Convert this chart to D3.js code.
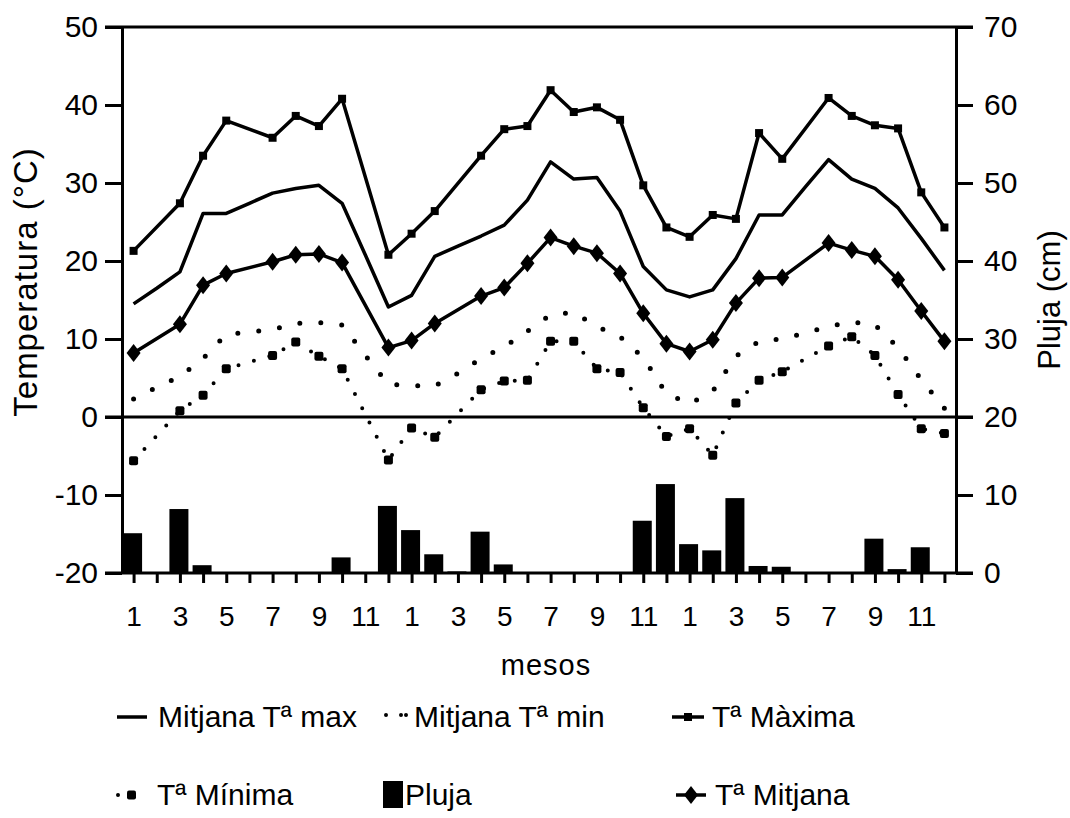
<!DOCTYPE html>
<html>
<head>
<meta charset="utf-8">
<script src="https://cdn.jsdelivr.net/npm/d3@7"></script>
<style>
  body { margin: 0; background: #fff; }
  text { font-family: "Liberation Sans", Arial, Helvetica, sans-serif; fill: #000; }
</style>
</head>
<body>
<div id="chart"></div>
<script>
// month number for each of the 36 points (three years)
const monthNum = [1,2,3,4,5,6,7,8,9,10,11,12, 1,2,3,4,5,6,7,8,9,10,11,12, 1,2,3,4,5,6,7,8,9,10,11,12];

// mean max / mean min (no markers)
const mitjanaMax = [14.5,16.5,18.6,26.1,26.1,27.4,28.7,29.3,29.7,27.4,20.8,14.1,
                    15.6,20.6,21.9,23.2,24.6,27.8,32.7,30.5,30.7,26.4,19.3,16.3,
                    15.4,16.3,20.3,25.9,25.9,29.5,33.0,30.5,29.3,26.8,22.9,18.8];
const mitjanaMin = [2.3,3.8,5.2,7.5,10.6,10.9,11.2,12.0,12.1,11.8,7.9,4.2,
                    4.0,4.0,5.6,7.5,9.0,11.0,13.1,13.4,11.6,10.3,7.6,3.0,
                    1.7,3.3,7.8,9.7,10.0,10.8,11.6,12.2,11.8,8.9,4.8,1.1];

// observed monthly values (null = no data that month)
const tMaxima = [21.3,null,27.4,33.5,38.0,null,35.8,38.6,37.3,40.8,null,20.8,
                 23.5,26.4,null,33.5,36.9,37.3,41.9,39.1,39.7,38.1,29.7,24.3,
                 23.1,25.9,25.4,36.4,33.1,null,40.9,38.6,37.4,37.0,28.8,24.3];
const tMinima = [-5.6,null,0.8,2.8,6.2,null,7.9,9.6,7.8,6.2,null,-5.5,
                 -1.4,-2.6,null,3.5,4.6,4.7,9.7,9.7,6.2,5.7,1.2,-2.5,
                 -1.5,-4.9,1.8,4.7,5.8,null,9.1,10.3,7.9,2.9,-1.5,-2.1];
const tMitjana = [8.2,null,11.9,16.9,18.4,null,19.9,20.8,20.9,19.8,null,8.9,
                  9.8,12.0,null,15.5,16.6,19.7,23.0,21.9,21.0,18.4,13.3,9.4,
                  8.4,9.9,14.6,17.8,17.9,null,22.3,21.4,20.6,17.6,13.6,9.7];

// rain (cm), right axis
const pluja = [5.1,0,8.2,1.0,0,0,0,0,0,2.0,0,8.6,
               5.5,2.4,0.2,5.3,1.1,0,0,0,0,0,6.7,11.4,
               3.7,2.9,9.6,0.9,0.8,0,0,0,4.4,0.5,3.3,0];

const tempTicks = [-20,-10,0,10,20,30,40,50];
const plujaTicks = [0,10,20,30,40,50,60,70];

// set the dimensions
const W = 1070, H = 818;
const plot = {left: 122, right: 956, top: 27, bottom: 573};

const svg = d3.select("#chart")
    .append("svg")
    .attr("width", W)
    .attr("height", H);

const idx = d3.range(monthNum.length);

const x = d3.scalePoint()
    .domain(idx)
    .range([plot.left, plot.right])
    .padding(0.5);

const y = d3.scaleLinear()
    .domain([-20, 50])
    .range([plot.bottom, plot.top]);

const yR = d3.scaleLinear()
    .domain([0, 70])
    .range([plot.bottom, plot.top]);

// rain bars
const barW = x.step() * 0.82;
svg.append("g")
    .selectAll("rect")
    .data(idx.filter(i => pluja[i] > 0))
    .join("rect")
    .attr("x", i => x(i) - barW / 2 - 1)
    .attr("y", i => yR(pluja[i]))
    .attr("width", barW)
    .attr("height", i => yR(0) - yR(pluja[i]))
    .style("fill", "#000");

// axes
const fs = 30;
const leftAxis = svg.append("g")
    .attr("transform", `translate(${plot.left},0)`)
    .call(d3.axisLeft(y).tickValues(tempTicks).tickSize(17).tickSizeOuter(0).tickPadding(7)
        .tickFormat(d => String(d)));
const rightAxis = svg.append("g")
    .attr("transform", `translate(${plot.right},0)`)
    .call(d3.axisRight(yR).tickValues(plujaTicks).tickSize(17).tickSizeOuter(0).tickPadding(11));
const bottomAxis = svg.append("g")
    .attr("transform", `translate(0,${plot.bottom})`)
    .call(d3.axisBottom(x).tickSize(10).tickSizeOuter(0).tickPadding(23)
        .tickFormat(i => monthNum[i] % 2 === 1 ? monthNum[i] : ""));
bottomAxis.select(".domain").remove();

[leftAxis, rightAxis, bottomAxis].forEach(g => {
    g.selectAll("line, path").style("stroke", "#000").style("stroke-width", 3);
    g.selectAll("text").style("font-size", fs + "px").style("fill", "#000");
});
bottomAxis.selectAll("text").style("font-size", "28px");

// frame lines: top, zero and bottom
svg.append("g")
    .selectAll("line")
    .data([50, 0, -20])
    .join("line")
    .attr("x1", plot.left - 17)
    .attr("x2", plot.right + 17)
    .attr("y1", d => y(d))
    .attr("y2", d => y(d))
    .style("stroke", "#000")
    .style("stroke-width", 3);

// axis titles
svg.append("text")
    .attr("transform", `translate(37,282) rotate(-90)`)
    .attr("text-anchor", "middle")
    .style("font-size", "33px")
    .style("letter-spacing", "1px")
    .text("Temperatura (°C)");
svg.append("text")
    .attr("transform", `translate(1060,300) rotate(-90)`)
    .attr("text-anchor", "middle")
    .style("font-size", "31px")
    .text("Pluja (cm)");
svg.append("text")
    .attr("x", 546)
    .attr("y", 675)
    .attr("text-anchor", "middle")
    .style("font-size", "29px")
    .style("letter-spacing", "1px")
    .text("mesos");

// lines
const line = d3.line()
    .x(d => x(d.i))
    .y(d => y(d.v));
const pts = arr => idx.map(i => ({i: i, v: arr[i]})).filter(d => d.v != null);

svg.append("path")
    .datum(pts(mitjanaMax))
    .attr("d", line)
    .style("fill", "none").style("stroke", "#000").style("stroke-width", 3.5)
    .style("stroke-linejoin", "round");

svg.append("path")
    .datum(pts(mitjanaMin))
    .attr("d", line)
    .style("fill", "none").style("stroke", "#000").style("stroke-width", 5)
    .style("stroke-linecap", "round")
    .style("stroke-dasharray", "0 21");

svg.append("path")
    .datum(pts(tMaxima))
    .attr("d", line)
    .style("fill", "none").style("stroke", "#000").style("stroke-width", 3.5)
    .style("stroke-linejoin", "round");

svg.append("path")
    .datum(pts(tMinima))
    .attr("d", line)
    .style("fill", "none").style("stroke", "#000").style("stroke-width", 4)
    .style("stroke-linecap", "round")
    .style("stroke-dasharray", "0 16");

svg.append("path")
    .datum(pts(tMitjana))
    .attr("d", line)
    .style("fill", "none").style("stroke", "#000").style("stroke-width", 3.5)
    .style("stroke-linejoin", "round");

// markers
svg.append("g")
    .selectAll("rect")
    .data(pts(tMaxima))
    .join("rect")
    .attr("x", d => x(d.i) - 4)
    .attr("y", d => y(d.v) - 4)
    .attr("width", 8).attr("height", 8)
    .style("fill", "#000");

svg.append("g")
    .selectAll("rect")
    .data(pts(tMinima))
    .join("rect")
    .attr("x", d => x(d.i) - 4.5)
    .attr("y", d => y(d.v) - 4.5)
    .attr("width", 9).attr("height", 9)
    .attr("rx", 2)
    .style("fill", "#000");

const diamond = "M0,-9L7,0L0,9L-7,0Z";
svg.append("g")
    .selectAll("path")
    .data(pts(tMitjana))
    .join("path")
    .attr("transform", d => `translate(${x(d.i)},${y(d.v)})`)
    .attr("d", diamond)
    .style("fill", "#000");

// legend
const lg = svg.append("g").style("font-size", "30px");
const row1 = 717, row2 = 795;

lg.append("line").attr("x1", 117).attr("x2", 147).attr("y1", row1).attr("y2", row1)
    .style("stroke", "#000").style("stroke-width", 3.5);
lg.append("text").attr("x", 158).attr("y", row1 + 10).text("Mitjana Tª max");

lg.append("line").attr("x1", 386).attr("x2", 408).attr("y1", row1 - 2).attr("y2", row1 - 2)
    .style("stroke", "#000").style("stroke-width", 4).style("stroke-linecap", "round")
    .style("stroke-dasharray", "0 15 0 5");
lg.append("text").attr("x", 414).attr("y", row1 + 10).text("Mitjana Tª min");

lg.append("line").attr("x1", 672).attr("x2", 704).attr("y1", row1).attr("y2", row1)
    .style("stroke", "#000").style("stroke-width", 3.5);
lg.append("rect").attr("x", 684).attr("y", row1 - 4).attr("width", 8).attr("height", 8)
    .style("fill", "#000");
lg.append("text").attr("x", 712).attr("y", row1 + 10).text("Tª Màxima");

lg.append("line").attr("x1", 118).attr("x2", 146).attr("y1", row2).attr("y2", row2)
    .style("stroke", "#000").style("stroke-width", 4).style("stroke-linecap", "round")
    .style("stroke-dasharray", "0 14");
lg.append("rect").attr("x", 127).attr("y", row2 - 4.5).attr("width", 9).attr("height", 9)
    .attr("rx", 2).style("fill", "#000");
lg.append("text").attr("x", 157).attr("y", row2 + 10).text("Tª Mínima");

lg.append("rect").attr("x", 383).attr("y", row2 - 14).attr("width", 20).attr("height", 27)
    .style("fill", "#000");
lg.append("text").attr("x", 405).attr("y", row2 + 10).text("Pluja");

lg.append("line").attr("x1", 676).attr("x2", 706).attr("y1", row2).attr("y2", row2)
    .style("stroke", "#000").style("stroke-width", 3.5);
lg.append("path").attr("transform", `translate(691,${row2})`).attr("d", diamond)
    .style("fill", "#000");
lg.append("text").attr("x", 715).attr("y", row2 + 10).text("Tª Mitjana");
</script>
</body>
</html>
